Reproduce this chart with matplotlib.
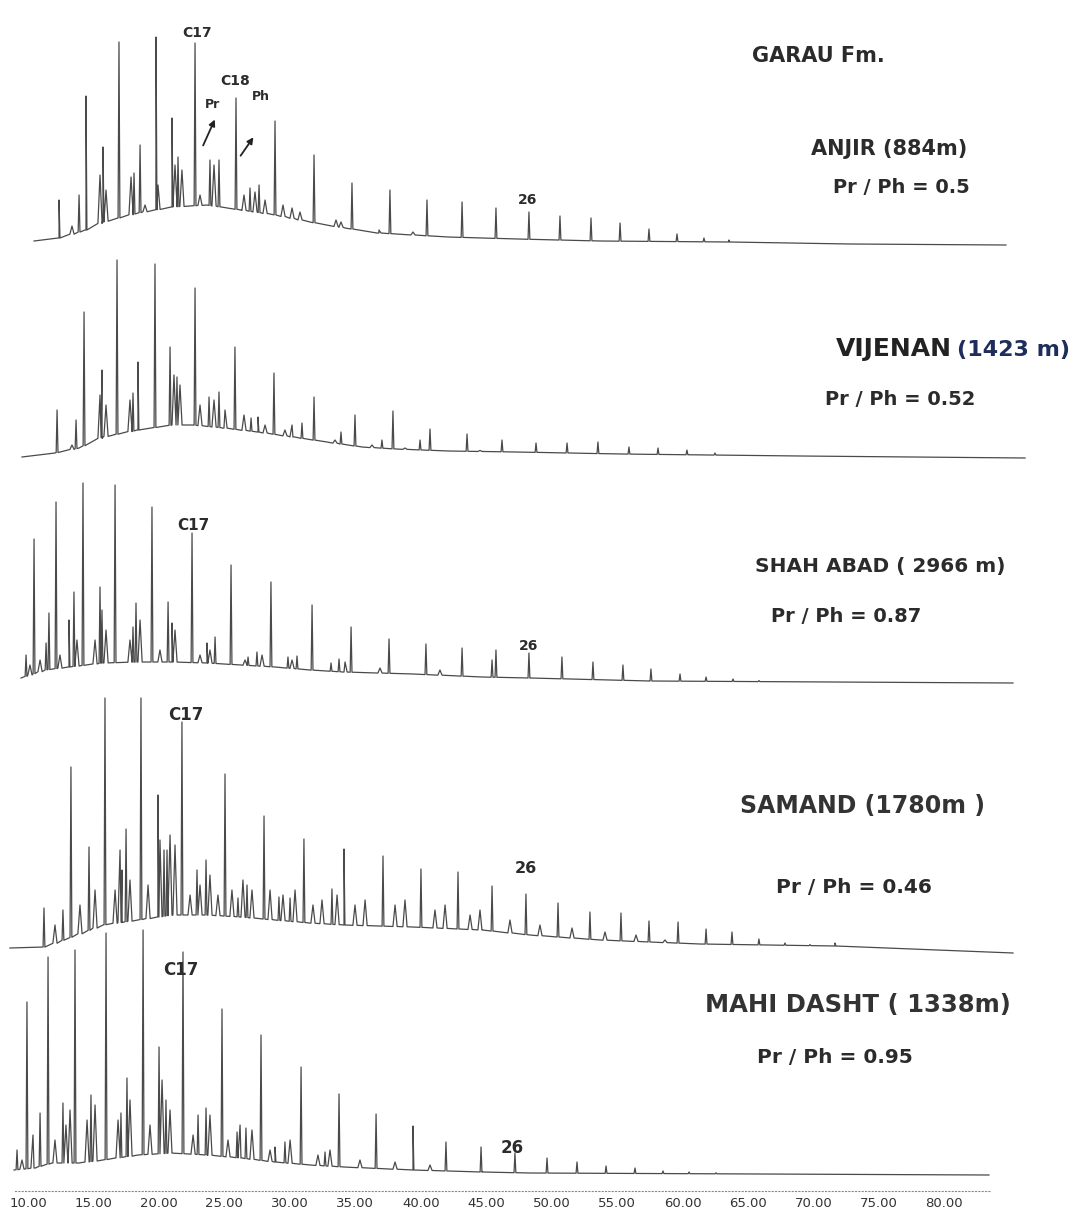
import numpy as np
import matplotlib.pyplot as plt

# retention time (min) / relative intensity

# ---- ANJIR (Garau Fm.)
anjir_base_t = [10.46, 12.37, 14.43, 15.73, 18.40, 21.00, 23.67, 26.27, 28.95, 31.54,
                34.22, 36.81, 42.09, 47.36, 53.70, 63.55, 72.80, 84.71]
anjir_base_v = [4, 7, 15, 23, 32, 38, 40, 35, 30, 23, 17, 12, 8, 6, 4, 3, 1, 0]
anjir_pk_t = [12.37, 13.90, 14.43, 15.73, 16.95, 18.10, 18.56, 19.78, 21.00, 21.46,
              22.76, 23.90, 24.59, 25.89, 26.96, 27.65, 28.87, 31.85, 34.75, 37.65,
              40.48, 43.16, 45.75, 48.27, 50.64, 53.01, 55.23, 57.44, 59.58, 61.64, 63.55]
anjir_pk_v = [45, 50, 149, 98, 203, 72, 100, 208, 127, 88,
              202, 85, 85, 147, 57, 60, 124, 90, 62, 55,
              45, 43, 37, 33, 29, 27, 22, 16, 11, 7, 5]
anjir_mn_t = [13.36, 15.50, 15.96, 17.87, 18.94, 19.93, 21.23, 21.76, 23.14, 24.21,
              26.50, 27.34, 28.11, 29.48, 30.17, 30.78, 33.53, 33.91, 36.81, 39.41]
anjir_mn_v = [19, 70, 55, 68, 40, 60, 80, 75, 50, 80, 50, 53, 45, 40, 37, 33, 25, 23, 15, 13]

# ---- VIJENAN
vij_base_t = [9.54, 12.06, 13.90, 15.73, 18.40, 21.00, 22.61, 24.97, 27.57, 30.24,
              32.84, 35.52, 38.11, 42.09, 47.36, 55.23, 68.98, 86.17]
vij_base_v = [1, 5, 10, 21, 28, 33, 33, 30, 26, 21, 16, 11, 9, 7, 6, 4, 2, 0]
vij_pk_t = [12.22, 13.67, 14.28, 15.65, 16.80, 18.02, 18.40, 19.70, 20.85, 21.38,
            22.76, 23.83, 24.59, 25.81, 27.04, 27.57, 28.79, 30.93, 31.85, 33.91,
            34.98, 37.04, 37.88, 39.95, 40.71, 43.54, 46.21, 48.81, 51.18, 53.54,
            55.91, 58.13, 60.34, 62.48]
vij_pk_v = [48, 38, 146, 88, 198, 65, 96, 194, 111, 81,
            170, 61, 66, 111, 40, 41, 85, 35, 61, 26,
            43, 18, 47, 18, 29, 24, 18, 15, 15, 16,
            11, 10, 8, 5]
vij_mn_t = [13.36, 15.50, 15.96, 17.79, 21.15, 21.61, 23.14, 24.21, 25.05, 26.50,
            28.11, 29.63, 30.17, 33.45, 36.28, 38.80, 44.53]
vij_mn_v = [13, 63, 53, 58, 83, 73, 53, 58, 48, 43, 33, 28, 33, 18, 13, 10, 6]

# ---- SHAH ABAD
sha_base_t = [9.47, 11.30, 13.13, 15.73, 18.40, 21.00, 23.67, 26.27, 28.87, 31.54,
              34.14, 39.41, 44.68, 48.35, 57.52, 85.25]
sha_base_v = [5, 13, 16, 20, 21, 21, 20, 18, 16, 13, 11, 9, 6, 5, 2, 0]
sha_pk_t = [9.85, 10.46, 11.38, 11.60, 12.14, 13.13, 13.51, 14.20, 15.50, 15.65,
            16.65, 18.02, 18.25, 19.47, 20.70, 21.00, 22.53, 23.67, 24.29, 25.51,
            26.81, 27.49, 28.56, 29.86, 30.55, 31.70, 33.15, 33.76, 34.68, 37.58,
            40.40, 43.16, 45.45, 45.75, 48.27, 50.79, 53.16, 55.45, 57.59, 59.81,
            61.80, 63.86, 65.84]
sha_pk_v = [28, 144, 40, 70, 181, 63, 91, 200, 96, 73,
            198, 56, 80, 176, 81, 60, 150, 40, 46, 118,
            26, 31, 101, 26, 27, 78, 20, 24, 56, 44,
            39, 35, 23, 33, 30, 26, 21, 18, 14, 9,
            6, 4, 2]
sha_mn_t = [10.15, 10.92, 12.44, 13.74, 15.12, 15.96, 17.79, 18.56, 20.08, 21.23,
            23.14, 23.90, 26.58, 27.88, 30.17, 34.22, 36.89, 41.47]
sha_mn_v = [18, 23, 28, 43, 43, 53, 43, 63, 33, 53, 28, 33, 23, 28, 23, 21, 15, 13]

# ---- SAMAND
sam_base_t = [8.62, 11.30, 13.13, 15.73, 18.40, 21.00, 23.67, 26.27, 28.87, 31.54,
              34.14, 39.41, 44.68, 48.35, 53.70, 61.34, 71.65, 85.25]
sam_base_v = [5, 6, 15, 28, 33, 38, 38, 36, 33, 30, 28, 26, 23, 18, 13, 9, 7, 0]
sam_pk_t = [11.22, 12.67, 13.28, 14.66, 15.88, 17.18, 17.49, 18.63, 19.93, 20.39,
            20.62, 21.76, 22.91, 23.60, 25.05, 26.04, 26.73, 28.03, 29.17, 30.02,
            31.08, 33.22, 34.14, 37.12, 40.02, 42.85, 45.45, 48.04, 50.49, 52.93,
            55.30, 57.44, 59.66, 61.80, 63.78, 65.84, 67.83, 69.74, 71.65]
sam_pk_v = [45, 43, 186, 106, 255, 83, 124, 255, 158, 103,
            103, 231, 83, 93, 179, 55, 68, 137, 56, 55,
            114, 64, 104, 97, 84, 81, 67, 59, 50, 41,
            40, 32, 31, 24, 21, 14, 10, 8, 10]
sam_mn_t = [12.06, 13.97, 15.12, 16.65, 17.03, 17.79, 19.17, 20.08, 20.85, 21.23,
            22.38, 23.14, 23.90, 24.51, 25.58, 26.42, 27.11, 28.49, 29.48, 30.40,
            31.77, 32.46, 33.61, 34.98, 35.75, 38.04, 38.80, 41.09, 41.86, 43.77,
            44.53, 46.82, 49.11, 51.56, 54.08, 56.45, 58.66]
sam_mn_v = [28, 48, 63, 63, 103, 73, 68, 113, 118, 108,
            58, 68, 78, 58, 63, 73, 63, 63, 58, 63,
            48, 53, 58, 48, 53, 48, 53, 43, 48, 38,
            43, 33, 28, 25, 21, 18, 13]

# ---- MAHI DASHT
mah_base_t = [8.93, 10.46, 11.83, 13.90, 15.73, 18.40, 21.00, 23.67, 26.27, 28.87,
              31.54, 34.14, 39.41, 44.68, 48.35, 83.41]
mah_base_v = [5, 7, 12, 12, 15, 20, 22, 20, 17, 13, 10, 8, 5, 3, 2, 0]
mah_pk_t = [9.16, 9.92, 10.92, 11.53, 12.67, 13.59, 14.81, 15.96, 17.10, 17.56,
            18.79, 20.01, 20.54, 21.84, 22.99, 23.60, 24.82, 25.97, 26.65, 27.80,
            28.87, 29.63, 30.86, 32.69, 33.76, 36.59, 39.41, 41.93, 44.61, 47.20,
            49.65, 51.94, 54.16, 56.37, 58.51, 60.50, 62.56]
mah_pk_v = [25, 173, 62, 218, 72, 225, 80, 242, 62, 97,
            245, 128, 75, 223, 60, 67, 166, 43, 47, 140,
            28, 33, 108, 23, 81, 61, 49, 33, 28, 22,
            17, 13, 9, 7, 4, 3, 2]
mah_mn_t = [9.54, 10.38, 12.06, 12.90, 13.21, 14.51, 15.12, 16.88, 17.79, 19.32,
            20.24, 20.85, 22.61, 23.90, 25.28, 26.20, 27.11, 28.49, 30.02, 32.15,
            33.07, 35.36, 38.04, 40.71]
mah_mn_v = [15, 40, 35, 50, 65, 55, 70, 55, 75, 50,
            95, 65, 40, 60, 35, 50, 45, 25, 35, 20,
            25, 15, 13, 10]

ticks = [10, 15, 20, 25, 30, 35, 40, 45, 50, 55, 60, 65, 70, 75, 80]

W, H = 1071, 1214
fig = plt.figure(figsize=(W / 100, H / 100), dpi=100)
T0, T1 = 7.86, 89.68
LINE = '#4a4a4a'


def make_axes(zero_px, span, below=0):
    ax = fig.add_axes([0, 1 - (zero_px + below) / H, 1, (span + below) / H])
    ax.set_xlim(T0, T1)
    ax.set_ylim(-below, span)
    ax.patch.set_visible(False)
    for s in ax.spines.values():
        s.set_visible(False)
    ax.set_xticks([])
    ax.set_yticks([])
    return ax


def draw_trace(ax, bt, bv, pt, pv, mt, mv):
    bt = np.array(bt, float)
    bv = np.array(bv, float)
    pts = list(zip(bt, bv))
    for tt, vv, w in [(pt, pv, 0.07), (mt, mv, 0.16)]:
        tt = np.array(tt, float)
        vv = np.array(vv, float)
        base = np.interp(tt, bt, bv)
        for t, v, b in zip(tt, vv, base):
            pts += [(t - w, b), (t, max(v, b + 1)), (t + w, b)]
    pts.sort()
    xs, ys = zip(*pts)
    ax.plot(xs, ys, color=LINE, lw=0.9, clip_on=False)


def ftext(x, y, s, size, **kw):
    kw.setdefault('fontweight', 'bold')
    kw.setdefault('color', '#2b2b2b')
    kw.setdefault('ha', 'center')
    fig.text(x / W, 1 - y / H, s, fontsize=size, va='baseline',
             family='DejaVu Sans', **kw)


panels = [
    (245, 245, 0, anjir_base_t, anjir_base_v, anjir_pk_t, anjir_pk_v, anjir_mn_t, anjir_mn_v),
    (458, 260, 0, vij_base_t, vij_base_v, vij_pk_t, vij_pk_v, vij_mn_t, vij_mn_v),
    (683, 260, 0, sha_base_t, sha_base_v, sha_pk_t, sha_pk_v, sha_mn_t, sha_mn_v),
    (953, 265, 0, sam_base_t, sam_base_v, sam_pk_t, sam_pk_v, sam_mn_t, sam_mn_v),
    (1175, 260, 16, mah_base_t, mah_base_v, mah_pk_t, mah_pk_v, mah_mn_t, mah_mn_v),
]
axes = []
for zero, span, below, bt, bv, pt, pv, mt, mv in panels:
    ax = make_axes(zero, span, below)
    draw_trace(ax, bt, bv, pt, pv, mt, mv)
    axes.append(ax)

# time axis under the last trace
ax5 = axes[-1]
ax5.spines['bottom'].set_visible(True)
ax5.spines['bottom'].set_linestyle((0, (1, 2)))
ax5.spines['bottom'].set_color('#8a8a8a')
ax5.spines['bottom'].set_bounds(9.0, 83.5)
ax5.set_xticks(ticks)
ax5.set_xticklabels(['%.2f' % t for t in ticks])
ax5.tick_params(axis='x', length=0, pad=4, labelsize=9.5, labelcolor='#333333')

# peak labels
lab = dict(fontweight='bold', color='#2b2b2b', ha='center', va='baseline', family='DejaVu Sans')
a1, a2, a3, a4, a5 = axes
a1.text(22.91, 208, 'C17', fontsize=10, **lab)
a1.text(25.81, 160, 'C18', fontsize=10, **lab)
a1.text(24.13, 137, 'Pr', fontsize=9, **lab)
a1.text(27.80, 145, 'Ph', fontsize=9, **lab)
a1.text(48.19, 41, '26', fontsize=10, **lab)
a1.annotate('', xy=(24.36, 128), xytext=(23.29, 97),
            arrowprops=dict(arrowstyle='-|>', color='#222222', lw=1.3, mutation_scale=9))
a1.annotate('', xy=(27.34, 110), xytext=(26.12, 87),
            arrowprops=dict(arrowstyle='-|>', color='#222222', lw=1.3, mutation_scale=9))
a3.text(22.61, 153, 'C17', fontsize=11, **lab)
a3.text(48.27, 33, '26', fontsize=10, **lab)
a4.text(22.07, 233, 'C17', fontsize=12, **lab)
a4.text(48.04, 80, '26', fontsize=11.5, **lab)
a5.text(21.69, 200, 'C17', fontsize=12, **lab)
a5.text(46.97, 22, '26', fontsize=12, **lab)

# well names
ftext(818, 62, 'GARAU Fm.', 15)
ftext(889, 155, 'ANJIR (884m)', 15)
ftext(901, 193, 'Pr / Ph = 0.5', 14)
ftext(952, 356, 'VIJENAN', 18, ha='right', color='#222222')
ftext(957, 356, '(1423 m)', 16, ha='left', color='#1f2d5c')
ftext(900, 405, 'Pr / Ph = 0.52', 14)
ftext(880, 572, 'SHAH ABAD ( 2966 m)', 14.5)
ftext(846, 622, 'Pr / Ph = 0.87', 14)
ftext(862, 813, 'SAMAND (1780m )', 17, color='#333333')
ftext(854, 893, 'Pr / Ph = 0.46', 14.5)
ftext(858, 1012, 'MAHI DASHT ( 1338m)', 17.5, color='#333333')
ftext(835, 1063, 'Pr / Ph = 0.95', 14.5)

fig.savefig('out.png', dpi=100, facecolor='white')
